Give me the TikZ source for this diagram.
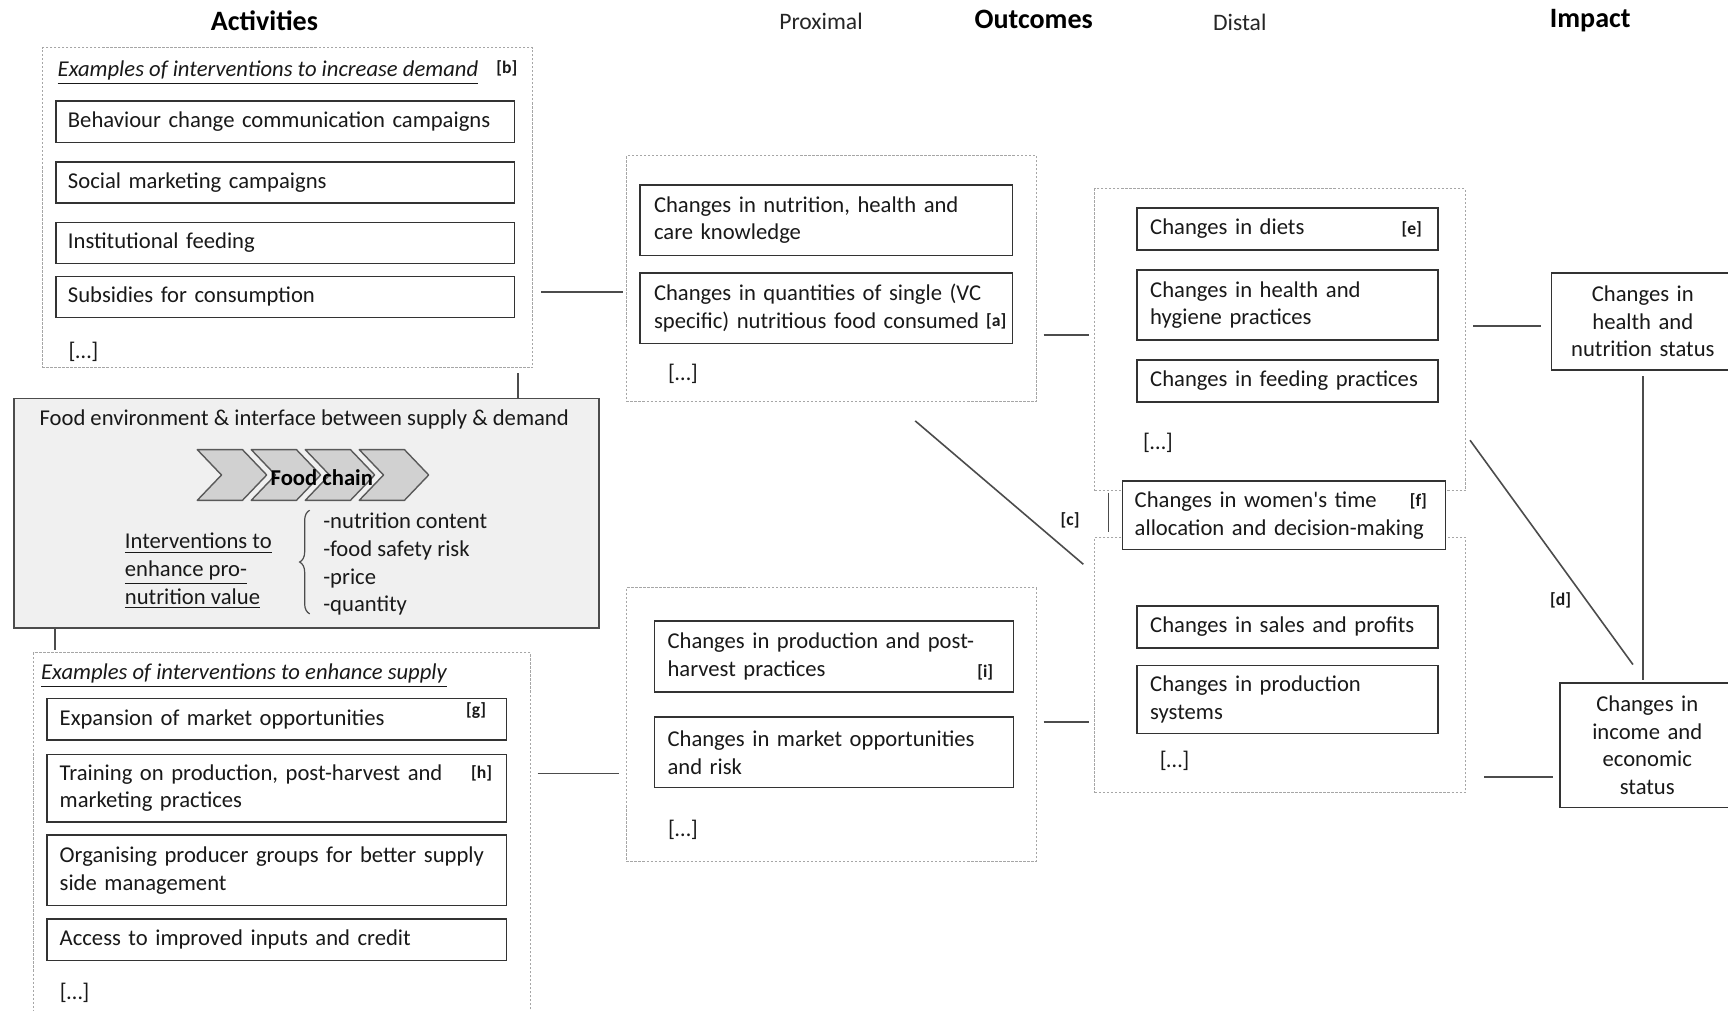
\documentclass[tikz,border=0pt]{standalone}
\usepackage{fontspec}
\setmainfont{Carlito}
\usetikzlibrary{calc}
\usetikzlibrary{decorations.pathreplacing}

\tikzset{
  group/.style={draw=black!35, dash pattern=on 1.2pt off 0.8pt, line width=0.5pt, anchor=north west, inner sep=0pt},
  item/.style={draw=black!80, line width=0.8pt, fill=white, anchor=north west, align=left, inner ysep=0pt, text=black!90},
  dem/.style={item, inner xsep=6pt, text width=216.8pt, minimum height=20.6pt},
  sup/.style={item, inner xsep=6.3pt, text width=216.7pt},
  prox/.style={item, inner xsep=7pt, text width=171.9pt, minimum height=35.2pt},
  proxb/.style={item, inner xsep=6.6pt, text width=166.1pt, minimum height=35.2pt},
  dist/.style={item, inner xsep=6.6pt, text width=136.9pt},
  plain/.style={anchor=west, inner sep=0pt, text=black!90},
  tag/.style={font=\fontsize{8.8}{10}\selectfont\bfseries, inner sep=0pt, text=black!90},
  link/.style={draw=black!70, line width=0.8pt},
  title/.style={font=\fontsize{14}{16}\selectfont\bfseries},
  subtitle/.style={font=\fontsize{11.8}{14}\selectfont, text=black!85},
  chev/.style={draw=black!65, fill=black!18, line width=0.7pt, line join=round}
}

\begin{document}
\begin{tikzpicture}[x=0.55pt, y=-0.55pt, font=\fontsize{11.3}{13.8}\selectfont]
\useasboundingbox (0,0) rectangle (1568,917);

% column headings
\node[title] (act) at (240,19) {Activities};
\node[subtitle] (prx) at (745,19) {Proximal};
\node[title] (outc) at (938,18) {Outcomes};
\node[subtitle] (dst) at (1125,20) {Distal};
\node[title] (imp) at (1443,19) {Impact};

% demand side
\node[group, minimum width=244.75pt, minimum height=159.5pt] (demand) at (38,43) {};
\node[plain] (demhd) at (52,66) {\textit{\underline{Examples of interventions to increase demand}}};
\node[tag] (tb) at (460,62) {[b]};
\node[dem] (bcc) at (50,91) {Behaviour change communication campaigns};
\node[dem] (smc) at (50,146) {Social marketing campaigns};
\node[dem] (inst) at (50,201) {Institutional feeding};
\node[dem] (subs) at (50,250) {Subsidies for consumption};
\node[plain] (demdots) at (62,319) {[…]};

% food environment
\node[draw=black!70, line width=0.8pt, fill=black!6, anchor=north west, inner sep=0pt,
  minimum width=292.05pt, minimum height=114.4pt] (foodenv) at (12,361) {};
\node[text=black!90] (fehd) at (276,381) {Food environment \& interface between supply \& demand};
\foreach \k in {0,...,3}
  \draw[chev] ({179+49*\k},408) -- ++(41,0) -- ++(22,23) -- ++(-22,23) -- ++(-41,0) -- ++(22,-23) -- cycle;
\node[font=\fontsize{11.3}{13.8}\selectfont\bfseries] (fchain) at (292,433) {Food chain};
\node[plain, align=left] (enh) at (113,518) {\underline{Interventions to}\\\underline{enhance pro-}\\\underline{nutrition value}};
\draw[draw=black!70, line width=0.6pt, decorate, decoration={brace, amplitude=5pt}] (281,557) -- (281,463);
\node[plain, align=left] (attr) at (293,512) {-nutrition content\\-food safety risk\\-price\\-quantity};

% supply side
\node[group, minimum width=248.05pt, minimum height=185.9pt] (supply) at (30,592) {};
\node[plain] (suphd) at (37,613) {\textit{\underline{Examples of interventions to enhance supply}}};
\node[sup, minimum height=20.9pt] (expn) at (42,633) {Expansion of market opportunities};
\node[tag] (tg) at (432,645) {[g]};
\node[sup, minimum height=33.5pt] (train) at (42,684) {Training on production, post-harvest and\\marketing practices};
\node[tag] (th) at (437,702) {[h]};
\node[sup, minimum height=35.2pt] (org) at (42,757) {Organising producer groups for better supply\\side management};
\node[sup, minimum height=20.9pt] (acc) at (42,833) {Access to improved inputs and credit};
\node[plain] (supdots) at (54,901) {[…]};

% proximal outcomes
\node[group, minimum width=204.6pt, minimum height=122.65pt] (proxup) at (568,141) {};
\node[prox] (know) at (580,167) {Changes in nutrition, health and\\care knowledge};
\node[prox] (qty) at (580,247) {Changes in quantities of single (VC\\specific) nutritious food consumed};
\node[tag] (ta) at (904,292) {[a]};
\node[plain] (pudots) at (606,339) {[…]};
\node[group, minimum width=204.6pt, minimum height=136.4pt] (proxlo) at (568,533) {};
\node[proxb] (prod) at (593,563) {Changes in production and post-\\harvest practices};
\node[tag] (ti) at (894,610) {[i]};
\node[proxb] (mkt) at (593,650) {Changes in market opportunities\\and risk};
\node[plain] (pldots) at (606,753) {[…]};

% distal outcomes
\node[group, minimum width=184.8pt, minimum height=150.7pt] (distup) at (993,171) {};
\node[dist, minimum height=20.9pt] (diets) at (1031,188) {Changes in diets};
\node[tag] (te) at (1281,208) {[e]};
\node[dist, minimum height=35.2pt] (hyg) at (1031,244) {Changes in health and\\hygiene practices};
\node[dist, minimum height=20.9pt] (feed) at (1031,326) {Changes in feeding practices};
\node[plain] (dudots) at (1037,402) {[…]};
\node[group, minimum width=184.8pt, minimum height=127.6pt] (distlo) at (993,487) {};
\node[item, inner xsep=6pt, text width=149.15pt, minimum height=34.1pt] (women) at (1018,436) {Changes in women\textquotesingle s time\\allocation and decision-making};
\node[tag] (tf) at (1287,455) {[f]};
\node[dist, minimum height=20.9pt] (sales) at (1031,549) {Changes in sales and profits};
\node[dist, minimum height=34.1pt] (psys) at (1031,603) {Changes in production\\systems};
\node[plain] (dldots) at (1052,690) {[…]};

% impact
\node[item, align=center, inner xsep=5.65pt, text width=80pt, minimum height=48.4pt] (hns) at (1407,247) {Changes in\\health and\\nutrition status};
\node[item, align=center, inner xsep=5.45pt, text width=76pt, minimum height=62.15pt] (ies) at (1415,619) {Changes in\\income and\\economic\\status};

% links
\coordinate (hA) at (0,265); \coordinate (hB) at (0,702);
\coordinate (hC) at (0,304); \coordinate (hD) at (0,655);
\coordinate (hE) at (0,296); \coordinate (hF) at (0,705);
\coordinate (vA) at (470,0); \coordinate (vB) at (50,0); \coordinate (vC) at (1006,0);
\draw[link, shorten <=3.85pt, shorten >=1.65pt] (demand.east |- hA) -- (proxup.west |- hA);
\draw[link, shorten <=3.3pt, shorten >=3.3pt] (supply.east |- hB) -- (proxlo.west |- hB);
\draw[link, shorten <=3.3pt, shorten >=2.75pt] (proxup.east |- hC) -- (distup.west |- hC);
\draw[link, shorten <=3.3pt, shorten >=2.75pt] (proxlo.east |- hD) -- (distlo.west |- hD);
\draw[link, shorten <=3.85pt, shorten >=4.95pt] (distup.east |- hE) -- (hns.west |- hE);
\draw[link, shorten <=9.35pt, shorten >=3.3pt] (distlo.east |- hF) -- (ies.west |- hF);
\draw[link, shorten <=2.75pt] (vA |- demand.south) -- (vA |- foodenv.north);
\draw[link, shorten >=1.1pt] (vB |- foodenv.south) -- (vB |- supply.north);
\draw[link, shorten <=0.55pt, shorten >=2.2pt] (vC |- distup.south) -- (vC |- distlo.north);
\draw[link, shorten <=2.75pt, shorten >=1.1pt] (hns.south) -- (hns.south |- ies.north);
\draw[link] ($(proxup.south)+(76,17)$) -- ($(distlo.north west)+(-10,25)$);
\node[tag] (tc) at (971,472) {[c]};
\draw[link] ($(distup.east)+(4,91)$) -- ($(ies.north)+(-13,-16)$);
\node[tag] (td) at (1416,545) {[d]};
\end{tikzpicture}
\end{document}
